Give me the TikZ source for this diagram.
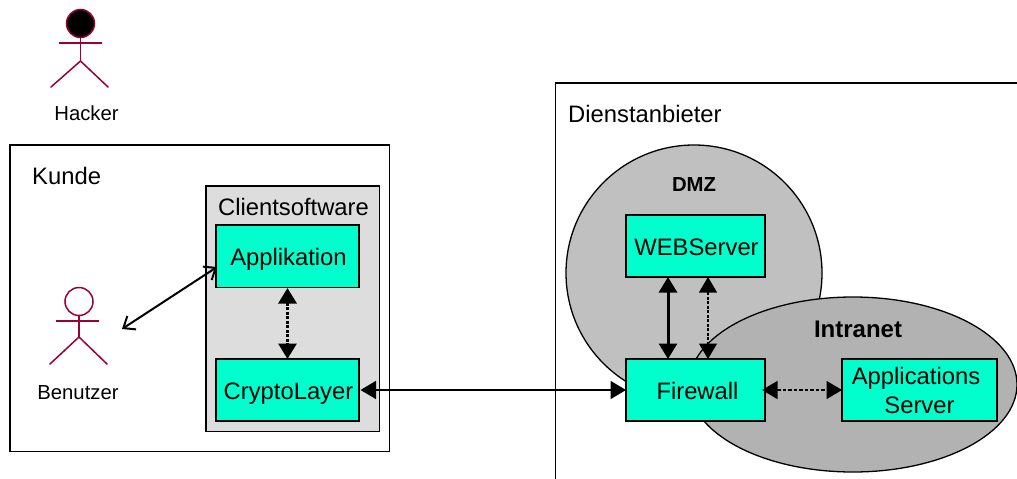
\documentclass[tikz,border=0pt]{standalone}
\usepackage{fontspec}
\setmainfont{Liberation Sans}
\usetikzlibrary{arrows.meta}
\definecolor{boxcyan}{HTML}{00FFCC}
\definecolor{actorred}{HTML}{990033}
\definecolor{dmzgray}{HTML}{C0C0C0}
\definecolor{intragray}{HTML}{B2B2B2}
\definecolor{clientgray}{HTML}{DDDDDD}
\tikzset{
  comp/.style={draw=black,fill=boxcyan,line width=1.5pt,inner sep=0pt,outer sep=0pt,align=center,font=\fontsize{23.8}{29}\selectfont,anchor=north west},
  oneline/.style={text height=18pt,text depth=0pt},
  frame/.style={draw=black,line width=1.5pt,inner sep=0pt,outer sep=0pt,anchor=north west},
  big/.style={inner sep=0pt,font=\fontsize{23.8}{29}\selectfont},
  small/.style={inner sep=0pt,font=\fontsize{20.3}{24}\selectfont},
  zone/.style={draw=black,line width=1.3pt,inner sep=0pt,outer sep=0pt},
  limb/.style={draw=actorred,line width=1.5pt},
  head/.style={circle,draw=actorred,line width=1.5pt,minimum size=28pt,inner sep=0pt,outer sep=0pt},
  solidtips/.style={{Triangle[length=15.5pt,width=18pt]}-{Triangle[length=15.5pt,width=18pt]}},
  opentips/.style={{Straight Barb[length=10pt,width=16pt]}-{Straight Barb[length=10pt,width=16pt]}}
}
\begin{document}
\begin{tikzpicture}[x=1pt,y=-1pt]
\useasboundingbox (0,0) rectangle (1017,479);
% Kunde
\node[frame,minimum width=379.5pt,minimum height=306.5pt] (kunde) at (10,145) {};
\node[big,anchor=base west] (kundelabel) at (32,184) {Kunde};
\node[frame,fill=clientgray,minimum width=173.5pt,minimum height=245.5pt] (client) at (206,186) {};
\node[big,anchor=base] (clientlabel) at (293.5,215) {Clientsoftware};
\node[comp,oneline,minimum width=143pt,minimum height=62.5pt] (app) at (216,225) {\kern2pt Applikation};
\node[comp,oneline,minimum width=143pt,minimum height=62pt] (crypto) at (216,359) {\kern2pt CryptoLayer};
% Dienstanbieter
\draw[line width=1.8pt] (555.5,479) -- (555.5,83) -- (1017,83);
\node[big,anchor=base west] (dienst) at (568,122) {Dienstanbieter};
\node[zone,circle,fill=dmzgray,minimum size=256pt] (dmz) at (694,273) {};
\node[small,anchor=base,font=\bfseries\fontsize{20.3}{24}\selectfont] (dmzlabel) at (694,191) {DMZ};
\path[zone,fill=intragray] (853,384.5) ellipse (164 and 87.5);
\node[big,anchor=base,font=\bfseries\fontsize{24}{29}\selectfont] (intralabel) at (858,337) {Intranet};
\node[comp,oneline,minimum width=139pt,minimum height=62pt] (web) at (626,215) {\kern2pt WEBServer};
\node[comp,oneline,minimum width=139pt,minimum height=62pt] (fw) at (626,359) {\kern4pt Firewall};
\node[comp,minimum width=155pt,minimum height=62pt] (srv) at (842,359) {Applications\kern7pt\\Server};
% Actors
\node[head,fill=black] (hhead) at (80.5,23.5) {};
\coordinate (hhip) at (80.5,61);
\coordinate (harml) at (59,43); \coordinate (harmr) at (102,43);
\coordinate (hfootl) at (51,87); \coordinate (hfootr) at (108,87);
\draw[limb] (hhead.south) -- (hhip);
\draw[limb] (harml) -- (harmr);
\draw[limb,line cap=round] (hfootl) -- (hhip) -- (hfootr);
\node[small,anchor=base] (hacker) at (86.5,120) {Hacker};
\node[head] (bhead) at (79,301.5) {};
\coordinate (bhip) at (79,337);
\coordinate (barml) at (56,321); \coordinate (barmr) at (99,321);
\coordinate (bfootl) at (50,364); \coordinate (bfootr) at (107,364);
\draw[limb] (bhead.south) -- (bhip);
\draw[limb] (barml) -- (barmr);
\draw[limb,line cap=round] (bfootl) -- (bhip) -- (bfootr);
\node[small,anchor=base] (benutzer) at (78,399) {Benutzer};
% Connectors
\coordinate (bport) at (122,329);
\coordinate (aport) at (217,267);
\draw[opentips,line width=2pt] (bport) -- (aport);
\coordinate (a1) at (287.5,288);
\draw[solidtips,line width=3pt,dash pattern=on 3pt off 1.5pt] (a1) -- (crypto.north -| a1);
\draw[solidtips,line width=1.7pt] (crypto.east) ++(1.5,0) -- (fw.west);
\coordinate (wa) at (668,277);
\coordinate (wb) at (708,277);
\draw[solidtips,line width=3pt] (web.south -| wa) -- (fw.north -| wa);
\draw[solidtips,line width=1.3pt,dash pattern=on 3pt off 1.5pt] (web.south -| wb) -- (fw.north -| wb);
\draw[solidtips,line width=1.5pt,dash pattern=on 3.5pt off 2pt] (fw.east) ++(-3,0) -- (srv.west);
\end{tikzpicture}
\end{document}
